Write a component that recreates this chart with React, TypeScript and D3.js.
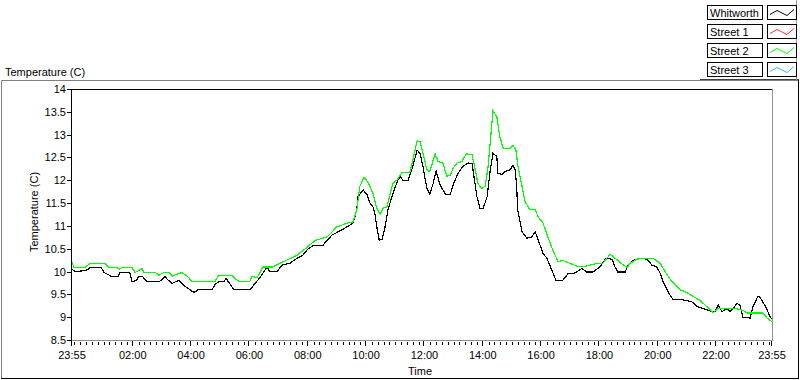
import React from "react";
import * as d3 from "d3";

// minutes after 23:55 (start) and temperature (C)
const whitworthTime = [0,6,27,33,37,60,66,82,95,99,119,123,132,138,144,154,181,191,197,206,220,232,251,259,288,294,302,313,317,333,356,366,372,387,401,407,422,432,448,463,475,485,496,516,525,535,551,566,578,586,588,599,607,613,619,623,627,632,638,644,650,658,669,675,681,691,699,710,716,722,730,736,743,749,757,763,769,778,784,794,804,815,823,829,833,839,846,854,860,866,874,876,885,891,901,907,912,915,917,926,936,946,953,959,969,977,987,996,1010,1020,1035,1049,1059,1072,1086,1098,1111,1117,1123,1138,1144,1154,1169,1183,1193,1203,1210,1216,1226,1236,1257,1275,1286,1298,1312,1323,1329,1337,1348,1354,1360,1368,1374,1380,1395,1401,1411,1415,1427,1436,1440];
const whitworthTemp = [10.05,10.0,10.02,10.05,10.09,10.09,9.98,9.89,9.89,9.98,9.98,9.78,9.8,9.9,9.9,9.79,9.79,9.89,9.82,9.74,9.81,9.68,9.54,9.6,9.6,9.71,9.78,9.78,9.85,9.6,9.6,9.6,9.68,9.87,10.1,10.0,10.0,10.14,10.18,10.29,10.36,10.49,10.57,10.57,10.69,10.8,10.89,10.98,11.06,11.35,11.64,11.79,11.68,11.5,11.42,11.28,10.98,10.69,10.7,10.98,11.35,11.64,11.97,12.09,11.99,11.99,12.23,12.66,12.59,12.3,11.82,11.7,11.93,12.2,11.9,11.79,11.68,11.68,11.9,12.15,12.3,12.38,12.36,11.93,11.64,11.39,11.39,11.64,12.19,12.59,12.52,12.15,12.13,12.19,12.23,12.33,12.23,11.79,11.35,10.87,10.73,10.76,10.87,10.69,10.4,10.29,10.03,9.8,9.81,9.95,9.97,10.07,9.99,9.99,10.1,10.29,10.27,10.1,9.99,9.99,10.14,10.24,10.29,10.27,10.14,10.1,9.96,9.78,9.56,9.39,9.38,9.34,9.23,9.19,9.14,9.12,9.27,9.12,9.19,9.12,9.19,9.3,9.27,9.0,8.98,9.23,9.46,9.44,9.23,9.01,8.96];

const street2Time = [0,4,27,37,68,76,93,97,103,123,130,144,148,171,179,189,200,206,226,237,247,294,302,329,335,344,366,370,381,393,413,428,442,463,479,500,525,545,566,578,586,592,601,609,613,619,627,634,640,648,654,660,669,679,695,701,710,716,722,730,736,747,753,763,771,778,784,792,802,811,823,829,835,843,850,856,862,866,874,880,887,901,907,913,917,926,932,942,953,959,969,979,989,1000,1010,1024,1041,1059,1080,1092,1107,1113,1123,1133,1142,1148,1162,1173,1195,1210,1220,1234,1251,1263,1277,1290,1302,1319,1329,1364,1380,1389,1421,1430,1440];
const street2Temp = [10.2,10.09,10.09,10.18,10.18,10.09,10.09,10.05,10.09,10.09,9.98,10.06,9.98,9.98,9.92,9.98,9.98,9.9,9.98,9.9,9.78,9.78,9.92,9.92,9.85,9.78,9.79,9.89,9.87,10.1,10.1,10.18,10.25,10.36,10.49,10.68,10.76,10.98,11.06,11.09,11.35,11.86,12.07,11.95,11.86,11.71,11.39,11.25,11.39,11.42,11.68,11.93,12.01,12.17,12.18,12.44,12.87,12.84,12.59,12.23,12.19,12.58,12.41,12.38,12.09,12.11,12.26,12.38,12.41,12.58,12.56,12.26,11.93,11.82,11.87,12.3,13.03,13.52,13.39,12.96,12.7,12.69,12.77,12.67,12.33,11.86,11.53,11.35,11.36,11.2,11.06,10.76,10.47,10.22,10.24,10.18,10.11,10.12,10.18,10.18,10.38,10.33,10.24,10.15,10.09,10.18,10.27,10.29,10.29,10.18,10.0,9.78,9.6,9.55,9.46,9.38,9.27,9.1,9.19,9.19,9.15,9.09,9.09,8.98,8.9];

const legendNames = ["Whitworth", "Street 1", "Street 2", "Street 3"];
const legendColors = ["#000000", "#ff3030", "#00ff00", "#33bbff"];

const yTicks = [8.5, 9, 9.5, 10, 10.5, 11, 11.5, 12, 12.5, 13, 13.5, 14];
const xTickLabels = ["23:55","02:00","04:00","06:00","08:00","10:00","12:00","14:00","16:00","18:00","20:00","22:00","23:55"];

const FONT = "'Liberation Sans', Arial, sans-serif";

function labelToOffset(label: string, i: number): number {
  if (i === xTickLabels.length - 1) return 1440;
  const [h, m] = label.split(":").map(Number);
  return (h * 60 + m - (23 * 60 + 55) + 1440) % 1440;
}

export default function App() {
  const W = 800, H = 380;
  const L = 72, R = 772, T = 89, B = 340;
  const x = d3.scaleLinear().domain([0, 1440]).range([L, R]);
  const y = d3.scaleLinear().domain([8.5, 14]).range([B, T]);

  const line = d3.line<[number, number]>().x((d) => x(d[0])).y((d) => y(d[1]));
  const blackPath = line(whitworthTime.map((t, i) => [t, whitworthTemp[i]]) as [number, number][]) || "";
  const greenPath = line(street2Time.map((t, i) => [t, street2Temp[i]]) as [number, number][]) || "";

  const majors = xTickLabels.map((l, i) => labelToOffset(l, i));
  const minors: number[] = [];
  for (let m = 5; m < 1440; m += 12) {
    if (!majors.some((mj) => Math.abs(mj - m) < 1)) minors.push(m);
  }

  return (
    <svg width={W} height={H} style={{ position: "absolute", left: 0, top: 0, background: "#fff" }} fontFamily={FONT}>
      <rect x={0} y={0} width={W} height={H} fill="#fff" />
      {/* outer frame */}
      <line x1={1.5} y1={80.5} x2={798.5} y2={80.5} stroke="#808080" />
      <line x1={1.5} y1={80.5} x2={1.5} y2={378.5} stroke="#808080" />
      <line x1={1} y1={378.5} x2={799} y2={378.5} stroke="#000" />
      <line x1={798.5} y1={80} x2={798.5} y2={379} stroke="#000" />
      <line x1={700} y1={79.5} x2={799} y2={79.5} stroke="#404040" />

      {/* title */}
      <text x={5} y={76} fontSize={11} fill="#000">Temperature (C)</text>

      {/* legend */}
      <line x1={796.5} y1={0} x2={796.5} y2={80} stroke="#a0a0a0" />
      {legendNames.map((n, i) => {
        const top = 4.5 + i * 19.3;
        const ty = Math.round(top) + 0.5;
        const sx = 768;
        return (
          <g key={n}>
            <rect x={707.5} y={ty} width={55} height={14} fill="#fff" stroke="#000" />
            <text x={710} y={ty + 11.5} fontSize={11} fill="#000">{n}</text>
            <rect x={sx - 0.5} y={ty} width={29} height={14} fill="#fff" stroke="#000" />
            <polyline
              points={`${sx + 2},${ty + 9} ${sx + 9},${ty + 5} ${sx + 15},${ty + 8} ${sx + 19},${ty + 10} ${sx + 26},${ty + 4}`}
              fill="none"
              stroke={legendColors[i]}
              strokeWidth={1}
            />
          </g>
        );
      })}

      {/* plot area */}
      <rect x={L} y={T} width={R - L} height={B - T} fill="#fff" />
      <line x1={L} y1={T + 0.5} x2={R} y2={T + 0.5} stroke="#000" />
      <line x1={R + 0.5} y1={T} x2={R + 0.5} y2={B} stroke="#909090" />
      <line x1={L} y1={B + 0.5} x2={R + 1} y2={B + 0.5} stroke="#909090" />

      <g shapeRendering="crispEdges">
        <path d={blackPath} fill="none" stroke="#000" strokeWidth={1.2} />
        <path d={greenPath} fill="none" stroke="#00ff00" strokeWidth={1.2} />
      </g>

      {/* y axis */}
      <line x1={L - 0.5} y1={T} x2={L - 0.5} y2={B + 1} stroke="#000" />
      {yTicks.map((t) => (
        <g key={t}>
          <line x1={L - 5} y1={Math.round(y(t)) + 0.5} x2={L} y2={Math.round(y(t)) + 0.5} stroke="#000" />
          <text x={L - 6} y={y(t) + 4} fontSize={11} textAnchor="end" fill="#000">{String(t)}</text>
        </g>
      ))}
      <text transform={`translate(38,212) rotate(-90)`} fontSize={11} textAnchor="middle" fill="#000">Temperature (C)</text>

      {/* x axis */}
      {minors.map((m) => (
        <line key={"mi" + m} x1={Math.round(x(m)) + 0.5} y1={B + 2} x2={Math.round(x(m)) + 0.5} y2={B + 5} stroke="#000" />
      ))}
      {majors.map((m, i) => (
        <g key={"ma" + i}>
          <line x1={Math.round(x(m)) - 0.5} y1={B + 1} x2={Math.round(x(m)) - 0.5} y2={B + 6} stroke="#000" />
          <text x={x(m)} y={B + 19} fontSize={11} textAnchor="middle" fill="#000">{xTickLabels[i]}</text>
        </g>
      ))}
      <text x={420} y={375} fontSize={11} textAnchor="middle" fill="#000">Time</text>
    </svg>
  );
}
